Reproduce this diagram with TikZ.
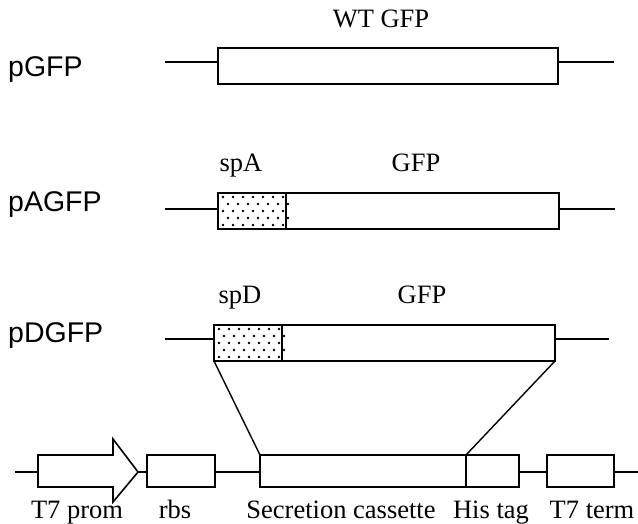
\documentclass[tikz,border=0pt]{standalone}
\usepackage{fontspec}
\setmainfont{Liberation Serif}
\newfontfamily\labelfont{Liberation Sans}
\usetikzlibrary{calc,positioning}

\begin{document}
\begin{tikzpicture}[x=1pt, y=-1pt, font=\fontsize{26.5}{31}\selectfont]
 \useasboundingbox (0,0) rectangle (638,524);
 % pGFP
 \draw (8,77) node[anchor=base west, inner sep=0pt, font=\labelfont\fontsize{28.5}{33}\selectfont]{pGFP};
 \draw[line width=1.4pt] (165,62) -- (218,62);
 \draw[line width=1.4pt] (558,62) -- (614,62);
 \draw[line width=1.8pt] (218,48) rectangle (558,84);
 \draw (381,28) node[anchor=base]{WT GFP};
 % pAGFP
 \draw (8,212) node[anchor=base west, inner sep=0pt, font=\labelfont\fontsize{28.5}{33}\selectfont]{pAGFP};
 \draw[line width=1.4pt] (165,209) -- (218,209);
 \draw[line width=1.4pt] (559,209) -- (615,209);
 \foreach \r in {0,...,4}
  \foreach \c in {0,...,6}
   \fill ({223+10*\c+5*mod(\r,2)},{197+7*\r}) circle (1.4);
 \draw[line width=1.8pt] (218,193) rectangle (559,229);
 \draw[line width=1.8pt] (286,193) -- (286,229);
 \draw (241,172) node[anchor=base]{spA};
 \draw (416,172) node[anchor=base]{GFP};
 % pDGFP
 \draw (8,342) node[anchor=base west, inner sep=0pt, font=\labelfont\fontsize{28.5}{33}\selectfont]{pDGFP};
 \draw[line width=1.4pt] (165,339) -- (214,339);
 \draw[line width=1.4pt] (555,339) -- (609,339);
 \foreach \r in {0,...,4}
  \foreach \c in {0,...,6}
   \fill ({219+10*\c+5*mod(\r,2)},{329+7*\r}) circle (1.4);
 \draw[line width=1.8pt] (214,325) rectangle (555,361);
 \draw[line width=1.8pt] (282,325) -- (282,361);
 \draw (240,303) node[anchor=base]{spD};
 \draw (422,303) node[anchor=base]{GFP};
 \coordinate (dleft) at (214,361);
 \coordinate (dright) at (555,361);
 % expression cassette
 \draw[line width=1.4pt] (15,472) -- (638,472);
 \draw[line width=1.6pt, fill=white] (38,455) -- (113,455) -- (113,439) -- (138,472)
   -- (113,502) -- (113,487) -- (38,487) -- cycle;
 \draw[line width=1.6pt, fill=white] (147,455) rectangle (215,487);
 \draw[line width=1.6pt, fill=white] (260,455) rectangle (519,487);
 \draw[line width=1.6pt] (466,455) -- (466,487);
 \draw[line width=1.6pt, fill=white] (547,455) rectangle (614,487);
 \coordinate (secleft) at (260,455);
 \coordinate (hisleft) at (466,455);
 \draw[line width=1.4pt] (dleft) -- (secleft);
 \draw[line width=1.4pt] (dright) -- (hisleft);
 \draw (77,518) node[anchor=base]{T7 prom};
 \draw (175,518) node[anchor=base]{rbs};
 \draw (341,518) node[anchor=base]{Secretion cassette};
 \draw (491,518) node[anchor=base]{His tag};
 \draw (592,518) node[anchor=base]{T7 term};
\end{tikzpicture}
\end{document}
